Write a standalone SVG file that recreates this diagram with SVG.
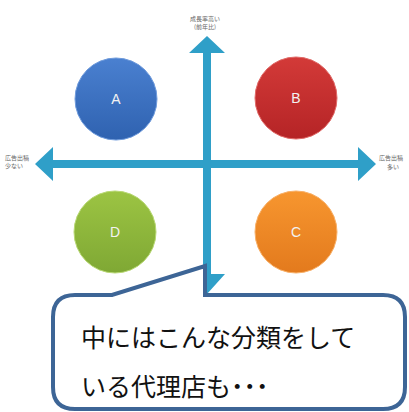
<svg xmlns="http://www.w3.org/2000/svg" width="409" height="412" viewBox="0 0 409 412">
  <style>
    .lbl { font-family: "Liberation Sans", Arial, sans-serif; font-size: 14px; fill: #f2f2f2; text-anchor: middle; }
    .ax { font-family: "Noto Sans CJK JP", "Noto Sans", sans-serif; font-size: 6px; fill: #666; }
    .call { font-family: "Noto Sans CJK JP", "Noto Sans", sans-serif; font-size: 25px; fill: #111; }
  </style>
  <defs>
    <linearGradient id="gA" x1="0" y1="0" x2="0" y2="1">
      <stop offset="0" stop-color="#4a80d0"/><stop offset="1" stop-color="#2f62b0"/>
    </linearGradient>
    <linearGradient id="gB" x1="0" y1="0" x2="0" y2="1">
      <stop offset="0" stop-color="#d33a38"/><stop offset="1" stop-color="#b52426"/>
    </linearGradient>
    <linearGradient id="gC" x1="0" y1="0" x2="0" y2="1">
      <stop offset="0" stop-color="#f7962f"/><stop offset="1" stop-color="#e37a1d"/>
    </linearGradient>
    <linearGradient id="gD" x1="0" y1="0" x2="0" y2="1">
      <stop offset="0" stop-color="#9cc443"/><stop offset="1" stop-color="#7fa834"/>
    </linearGradient>
  </defs>
  <rect width="409" height="412" fill="#ffffff"/>
  <g id="axes">
    <path d="M203 53 L189 53 L207 36 L225 53 L211 53 L211 274 L225 274 L207 294 L189 274 L203 274 Z" fill="#2f9fc8"/>
    <path d="M53 160 L53 147 L35 164 L53 181 L53 168 L358 168 L358 181 L376 164 L358 147 L358 160 Z" fill="#2f9fc8"/>
  </g>
  <g id="axis-labels">
    <text class="ax" x="205" y="21" text-anchor="middle">成長率高い</text>
    <text class="ax" x="205" y="29" text-anchor="middle">(前年比)</text>
    <text class="ax" x="5" y="160">広告出稿</text>
    <text class="ax" x="5" y="168">少ない</text>
    <text class="ax" x="403" y="160" text-anchor="end">広告出稿</text>
    <text class="ax" x="399" y="169" text-anchor="end">多い</text>
  </g>
  <g id="nodeA">
    <circle cx="116" cy="99" r="41" fill="url(#gA)" stroke="#6f9bdc" stroke-width="1"/>
    <text class="lbl" x="116" y="104">A</text>
  </g>
  <g id="nodeB">
    <circle cx="296" cy="98" r="41" fill="url(#gB)" stroke="#e06a68" stroke-width="1"/>
    <text class="lbl" x="296" y="103">B</text>
  </g>
  <g id="nodeD">
    <circle cx="115" cy="232" r="41" fill="url(#gD)" stroke="#b8d874" stroke-width="1"/>
    <text class="lbl" x="115" y="237">D</text>
  </g>
  <g id="nodeC">
    <circle cx="296" cy="232" r="41" fill="url(#gC)" stroke="#f8b068" stroke-width="1"/>
    <text class="lbl" x="296" y="237">C</text>
  </g>
  <g id="callout">
    <path d="M75 295 L112 295 L205 266 L205 295 L383 295 Q405 295 405 317 L405 387 Q405 409 383 409 L75 409 Q53 409 53 387 L53 317 Q53 295 75 295 Z" fill="#ffffff" stroke="#3d6596" stroke-width="4" stroke-linejoin="miter"/>
    <text class="call" x="81" y="347">中にはこんな分類をして</text>
    <text class="call" x="81" y="396">いる代理店も<tspan font-weight="bold">･･･</tspan></text>
  </g>
</svg>
